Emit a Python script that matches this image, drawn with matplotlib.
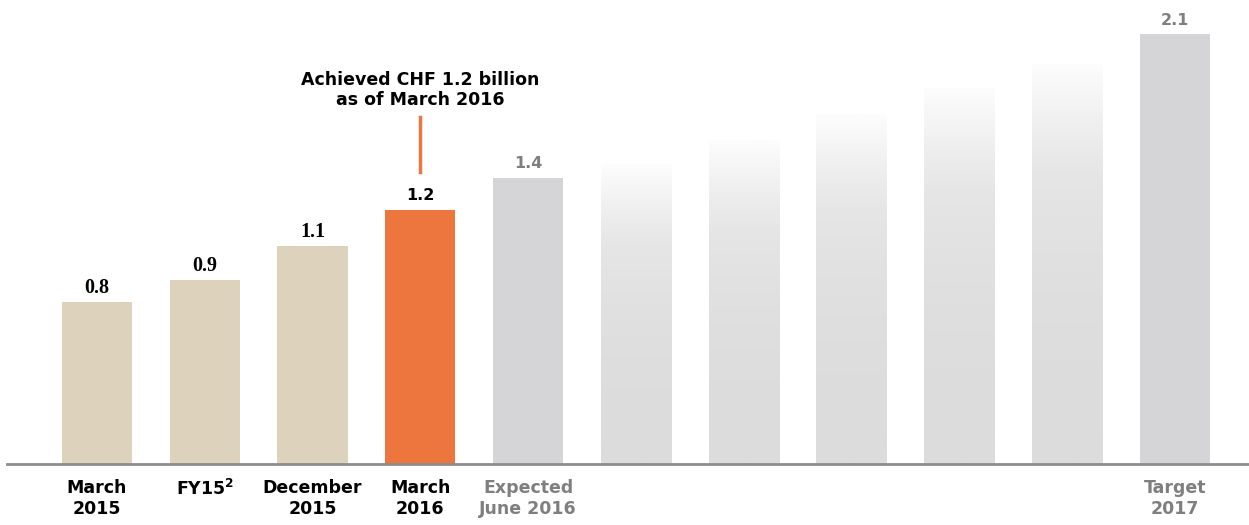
import matplotlib
matplotlib.use("Agg")
import matplotlib.pyplot as plt
import numpy as np
from matplotlib.colors import LinearSegmentedColormap

# data (bar heights as drawn, labels as printed)
labels = ["March\n2015", "FY15$^\\mathbf{2}$", "December\n2015", "March\n2016", "Expected\nJune 2016",
          "", "", "", "", "", "Target\n2017"]
values = [0.81, 0.92, 1.09, 1.27, 1.43, 1.5, 1.62, 1.75, 1.88, 2.0, 2.15]
value_text = ["0.8", "0.9", "1.1", "1.2", "1.4", "", "", "", "", "", "2.1"]
kind = ["past", "past", "past", "now", "plan", "fade", "fade", "fade", "fade", "fade", "plan"]

colores = {"past": "#ddd3bc", "now": "#ed763e", "plan": "#d5d5d7"}
texto_color = {"past": "black", "now": "black", "plan": "#7f7f7f", "fade": "#7f7f7f"}

fig = plt.figure(figsize=(12.49, 5.25), dpi=100)
ax = fig.add_axes([0, 0, 1, 1])

x = np.arange(len(values))
w = 0.65
cmap = LinearSegmentedColormap.from_list("fade", ["#dcdcdc", "#e6e6e6", "#fdfdfd"])
grad = np.linspace(0, 1, 256) ** 2.2
grad = grad[::-1].reshape(-1, 1)

for i, v in enumerate(values):
	k = kind[i]
	if k == "fade":
		b = ax.bar(x[i], v, width=w, color="none", linewidth=0)[0]
		im = ax.imshow(grad, cmap=cmap, vmin=0, vmax=1, aspect="auto",
		               extent=(x[i] - w / 2, x[i] + w / 2, 0, v), zorder=1)
		im.set_clip_path(b)
	else:
		ax.bar(x[i], v, width=w, color=colores[k], linewidth=0, zorder=2)

	if value_text[i]:
		if k == "past":
			ax.text(x[i], v + 0.07, value_text[i], ha="center", va="center",
			        family="Liberation Serif", weight="bold", fontsize=14.5, color="black")
		else:
			ax.text(x[i], v + 0.07, value_text[i], ha="center", va="center",
			        family="DejaVu Sans", weight="bold", fontsize=11.5, color=texto_color[k])

	if labels[i]:
		ax.text(x[i], -0.075, labels[i], ha="center", va="top", fontsize=12.5, weight="bold",
		        color=texto_color[k], linespacing=1.25)

ax.set_xlim(-0.9, 10.69)
ax.set_ylim(-0.305, 2.32)
ax.axhline(0, xmin=7 / 1249, xmax=1, color="#8c8c8c", linewidth=2, zorder=3)

# anotacion
ax.text(3, 1.87, "Achieved CHF 1.2 billion\nas of March 2016", ha="center", va="center",
        fontsize=12.5, weight="bold", color="black", linespacing=1.2)
ax.plot([3, 3], [1.46, 1.735], color="#ed763e", linewidth=2.5)

ax.axis("off")
fig.savefig("out.png", dpi=100, facecolor="white")
